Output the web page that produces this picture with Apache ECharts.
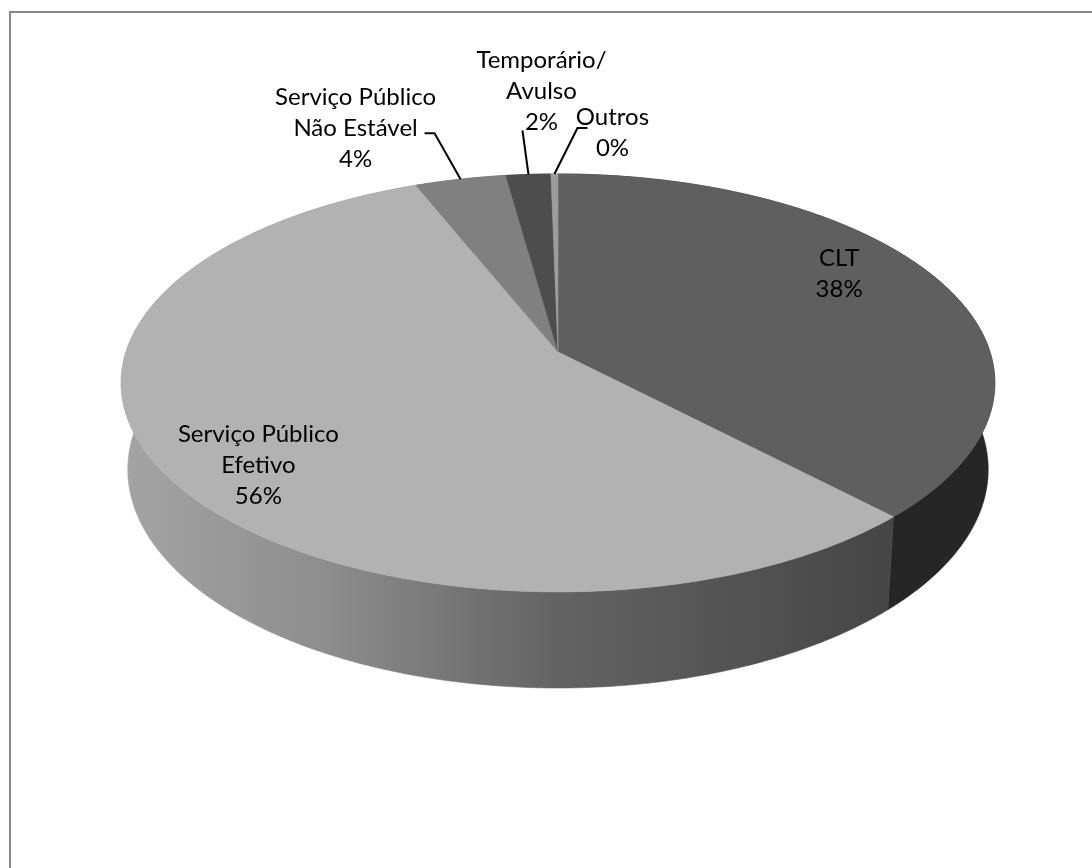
<!DOCTYPE html>
<html>
<head>
<meta charset="utf-8">
<script src="https://cdn.jsdelivr.net/npm/echarts@6/dist/echarts.min.js"></script>
<style>
  html, body { margin: 0; padding: 0; background: #ffffff; }
  #chart { width: 1092px; height: 868px; }
</style>
</head>
<body>
<div id="chart"></div>
<script>
// Vínculo de trabalho — participação de cada categoria (%)
const categories = ['CLT', 'Serviço Público Efetivo', 'Serviço Público Não Estável', 'Temporário/ Avulso', 'Outros'];
const labelLines = [['CLT'], ['Serviço Público', 'Efetivo'], ['Serviço Público', 'Não Estável'], ['Temporário/', 'Avulso'], ['Outros']];
const values = [37.8, 56.1, 3.9, 1.9, 0.3];

// Tons de cinza do tampo e da lateral de cada fatia
const topColors = ['#5f5f5f', '#b2b2b2', '#808080', '#4d4d4d', '#9c9c9c'];
const sideColors = [
  '#262626',
  new echarts.graphic.LinearGradient(122, 0, 885, 0, [
    { offset: 0, color: '#a4a4a4' },
    { offset: 0.27, color: '#8d8d8d' },
    { offset: 0.57, color: '#636363' },
    { offset: 1, color: '#464646' }
  ], true),
  '#5a5a5a', '#333333', '#707070'
];

const total = values.reduce((a, b) => a + b, 0);
let acc = 0;
const seriesData = values.map((v, i) => {
  const item = { name: categories[i], value: [acc, v] };
  acc += v;
  return item;
});

// Projeção em perspectiva do disco (u = direita, v = fundo, z = 0 tampo / 1 base)
const P = { cx: 558, cy: 352, a: 432, b: 204.4, k: 0.148, m: 0.015, h: 86.9 };
function proj(u, v, z) {
  const d = 1 + P.k * v + P.m * z;
  return [P.cx + P.a * u / d, P.cy + (-P.b * v + P.h * z) / d];
}
function onRim(t, z, r) {
  return proj(r * Math.sin(t), r * Math.cos(t), z);
}
function arc(t0, t1, z) {
  const n = Math.max(2, Math.ceil((t1 - t0) / (Math.PI / 360)));
  const pts = [];
  for (let i = 0; i <= n; i++) pts.push(onRim(t0 + (t1 - t0) * i / n, z, 1));
  return pts;
}

// Posição dos rótulos: dentro da fatia ou fora, com linha de chamada
const labelPlacement = [
  { inside: true, r: 0.73, dy: -25 },
  { inside: true, r: 0.775, dy: 21 },
  { inside: false, line: [[-26, -46], [-36, -46]], text: [-105, -51] },
  { inside: false, line: [[-6, -44]], text: [13, -83] },
  { inside: false, line: [[23, -46], [33, -46]], text: [58, -41] }
];

const font = { fontFamily: 'Lato, "Open Sans", sans-serif', fontSize: 24, lineHeight: 31, fill: '#000000' };

function renderItem(params, api) {
  const i = params.dataIndex;
  const start = api.value(0), val = api.value(1);
  const t0 = start / total * Math.PI * 2;
  const t1 = (start + val) / total * Math.PI * 2;
  const tm = (t0 + t1) / 2;
  const children = [];

  const wall = arc(t0, t1, 0).concat(arc(t0, t1, 1).reverse());
  children.push({
    type: 'polygon', z2: 1,
    shape: { points: wall },
    style: { fill: sideColors[i], stroke: sideColors[i], lineWidth: 0.6 }
  });
  const top = [proj(0, 0, 0)].concat(arc(t0, t1, 0));
  children.push({
    type: 'polygon', z2: 10,
    shape: { points: top },
    style: { fill: topColors[i], stroke: topColors[i], lineWidth: 0.6 }
  });

  const pct = Math.round(val / total * 100) + '%';
  const text = labelLines[i].concat([pct]).join('\n');
  const lp = labelPlacement[i];
  if (lp.inside) {
    const c = onRim(tm, 0, lp.r);
    children.push({
      type: 'text', z2: 30, x: c[0], y: c[1] + lp.dy,
      style: Object.assign({ text: text, align: 'center', verticalAlign: 'middle' }, font)
    });
  } else {
    const a = onRim(tm, 0, 1);
    const pts = [a].concat(lp.line.map(d => [a[0] + d[0], a[1] + d[1]]));
    children.push({
      type: 'polyline', z2: 30,
      shape: { points: pts },
      style: { stroke: '#000000', lineWidth: 2, fill: null }
    });
    children.push({
      type: 'text', z2: 30, x: a[0] + lp.text[0], y: a[1] + lp.text[1],
      style: Object.assign({ text: text, align: 'center', verticalAlign: 'middle' }, font)
    });
  }
  return { type: 'group', children: children };
}

const chart = echarts.init(document.getElementById('chart'), null, { renderer: 'canvas' });
chart.setOption({
  backgroundColor: '#ffffff',
  animation: false,
  graphic: [{
    type: 'rect', z: -10,
    shape: { x: 10, y: 12, width: 1200, height: 1000 },
    style: { fill: '#ffffff', stroke: '#878787', lineWidth: 2 }
  }],
  series: [{
    type: 'custom',
    coordinateSystem: 'none',
    renderItem: renderItem,
    data: seriesData
  }]
});
</script>
</body>
</html>
